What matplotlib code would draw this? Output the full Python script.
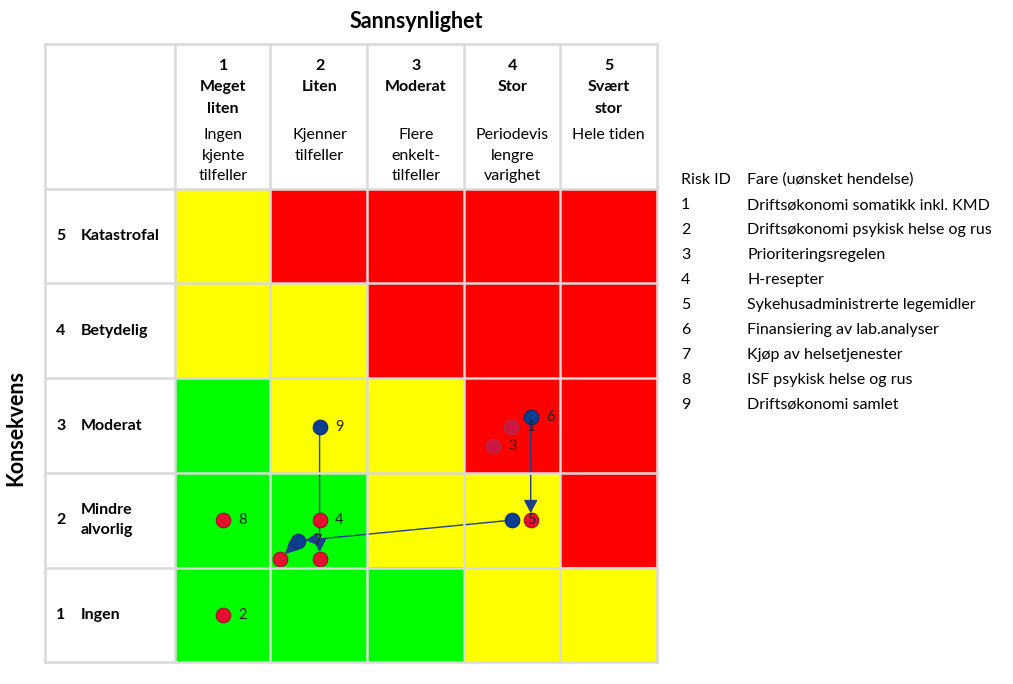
import numpy as np
import matplotlib
matplotlib.use("Agg")
import matplotlib.pyplot as plt
from matplotlib.colors import ListedColormap
from matplotlib.lines import Line2D
import matplotlib.transforms as mtransforms

plt.rcParams["font.family"] = ["Lato", "DejaVu Sans"]

# ---- data ----
col_nums = ["1", "2", "3", "4", "5"]
col_names = [["Meget", "liten"], ["Liten"], ["Moderat"], ["Stor"], ["Svært", "stor"]]
col_desc = [["Ingen", "kjente", "tilfeller"], ["Kjenner", "tilfeller"],
            ["Flere", "enkelt-", "tilfeller"], ["Periodevis", "lengre", "varighet"],
            ["Hele tiden"]]
row_nums = [1, 2, 3, 4, 5]
row_names = ["Ingen", "Mindre\nalvorlig", "Moderat", "Betydelig", "Katastrofal"]

# 0 = green, 1 = yellow, 2 = red ; rows from consequence 1 (bottom) to 5 (top)
risk_level = np.array([
    [0, 0, 0, 1, 1],
    [0, 0, 1, 1, 2],
    [0, 1, 1, 2, 2],
    [1, 1, 2, 2, 2],
    [1, 2, 2, 2, 2],
])

# current positions (red)
cur_ids = ["2", "4", "8", "", "", ""]
cur_x = [1.0, 2.0, 1.0, 2.0, 1.59, 4.19]
cur_y = [1.0, 2.0, 2.0, 1.59, 1.59, 2.0]

# earlier positions (blue)
prev_ids = ["9", "7", "5", "6"]
prev_x = [2.0, 1.78, 4.0, 4.19]
prev_y = [2.98, 1.78, 2.0, 3.09]

# faded markers
faded_ids = ["1", "3"]
faded_x = [3.99, 3.80]
faded_y = [2.98, 2.78]

# movements: (from x, from y, to x, to y)
move_from_x = [2.0, 1.78, 4.19, 4.0]
move_from_y = [2.98, 1.78, 3.09, 2.0]
move_to_x = [2.0, 1.59, 4.19, 1.78]
move_to_y = [1.59, 1.59, 2.0, 1.78]

legend_ids = ["1", "2", "3", "4", "5", "6", "7", "8", "9"]
legend_text = ["Driftsøkonomi somatikk inkl. KMD", "Driftsøkonomi psykisk helse og rus",
               "Prioriteringsregelen", "H-resepter", "Sykehusadministrerte legemidler",
               "Finansiering av lab.analyser", "Kjøp av helsetjenester",
               "ISF psykisk helse og rus", "Driftsøkonomi samlet"]

# ---- layout ----
W, H = 1013, 684
fig = plt.figure(figsize=(W / 100, H / 100), dpi=100)
fig.patch.set_facecolor("white")


def fx(px):
    return px / W


def fy(py):
    return 1 - py / H


left, right, top, bottom = 175, 657, 189, 662
tab_left, tab_top = 45, 44
grid_c = "#D9D9D9"

ax = fig.add_axes([fx(left), fy(bottom), fx(right - left), (bottom - top) / H])
cmap = ListedColormap(["#00FF00", "#FFFF00", "#FF0000"])
xe = np.arange(0.5, 6, 1)
ax.pcolormesh(xe, xe, risk_level, cmap=cmap, vmin=0, vmax=2)
ax.set_xlim(0.5, 5.5)
ax.set_ylim(0.5, 5.5)
ax.axis("off")

# table grid lines
lw = 1.8
for xp in [tab_left, left, 270, 367, 464, 560, right]:
    fig.add_artist(Line2D([fx(xp)] * 2, [fy(tab_top), fy(bottom)], color=grid_c,
                          lw=lw, transform=fig.transFigure, zorder=5))
for yp in [tab_top, top, 283, 378, 473, 568, bottom]:
    fig.add_artist(Line2D([fx(tab_left), fx(right)], [fy(yp)] * 2, color=grid_c,
                          lw=lw, transform=fig.transFigure, zorder=5))

# titles
fig.text(fx(416), fy(21), "Sannsynlighet", ha="center", va="center",
         fontsize=15.5, fontweight="bold")
fig.text(fx(16), fy(428), "Konsekvens", ha="center", va="center",
         fontsize=15.5, fontweight="bold", rotation=90)

# column headers
trans_x = mtransforms.blended_transform_factory(ax.transData, fig.transFigure)
fs = 11.5
for i in range(5):
    cx = i + 1
    bold_lines = [col_nums[i]] + col_names[i]
    for j, s in enumerate(bold_lines):
        ax.text(cx, fy([66, 87, 109][j]), s, transform=trans_x, ha="center",
                va="center", fontsize=fs, fontweight="bold", clip_on=False)
    for j, s in enumerate(col_desc[i]):
        ax.text(cx, fy([135, 156, 176][j]), s, transform=trans_x, ha="center",
                va="center", fontsize=fs, clip_on=False)

# row headers
trans_y = mtransforms.blended_transform_factory(fig.transFigure, ax.transData)
for n, name in zip(row_nums, row_names):
    ax.text(fx(61), n, str(n), transform=trans_y, ha="center", va="center",
            fontsize=fs, fontweight="bold", clip_on=False)
    ax.text(fx(81), n, name, transform=trans_y, ha="left", va="center",
            fontsize=fs, fontweight="bold", linespacing=1.6, clip_on=False)

# movement arrows
arrow_c = "#1F3E8C"
for x0, y0, x1, y1 in zip(move_from_x, move_from_y, move_to_x, move_to_y):
    ax.annotate("", xy=(x1, y1), xytext=(x0, y0),
                arrowprops=dict(arrowstyle="-|>,head_length=0.8,head_width=0.42",
                                color=arrow_c, lw=1.0, shrinkA=0, shrinkB=5),
                zorder=3)

# markers
ms = 110
ax.scatter(faded_x, faded_y, s=ms, color="#C51B4E", edgecolor="#A8334F",
           linewidth=0.8, alpha=0.85, zorder=4)
ax.scatter(cur_x, cur_y, s=ms, color="#E3112E", edgecolor="#A0102A",
           linewidth=0.8, zorder=4)
ax.scatter(prev_x, prev_y, s=ms, color="#0B3D91", edgecolor="#082C6A",
           linewidth=0.8, zorder=4)

lab_fs = 10.5
for ids, xs, ys in [(cur_ids, cur_x, cur_y), (prev_ids, prev_x, prev_y),
                    (faded_ids, faded_x, faded_y)]:
    for s, x, y in zip(ids, xs, ys):
        if s:
            ax.annotate(s, (x, y), xytext=(14, 0), textcoords="offset points",
                        ha="center", va="center", fontsize=lab_fs, color="#222222",
                        zorder=6)

# legend table
fig.text(fx(681), fy(180), "Risk ID", ha="left", va="center", fontsize=fs)
fig.text(fx(747), fy(180), "Fare (uønsket hendelse)", ha="left", va="center", fontsize=fs)
for k, (rid, txt) in enumerate(zip(legend_ids, legend_text)):
    yy = 205 + 25 * k
    fig.text(fx(681), fy(yy), rid, ha="left", va="center", fontsize=fs)
    fig.text(fx(747), fy(yy), txt, ha="left", va="center", fontsize=fs)

fig.savefig("out.png", dpi=100, facecolor="white")
